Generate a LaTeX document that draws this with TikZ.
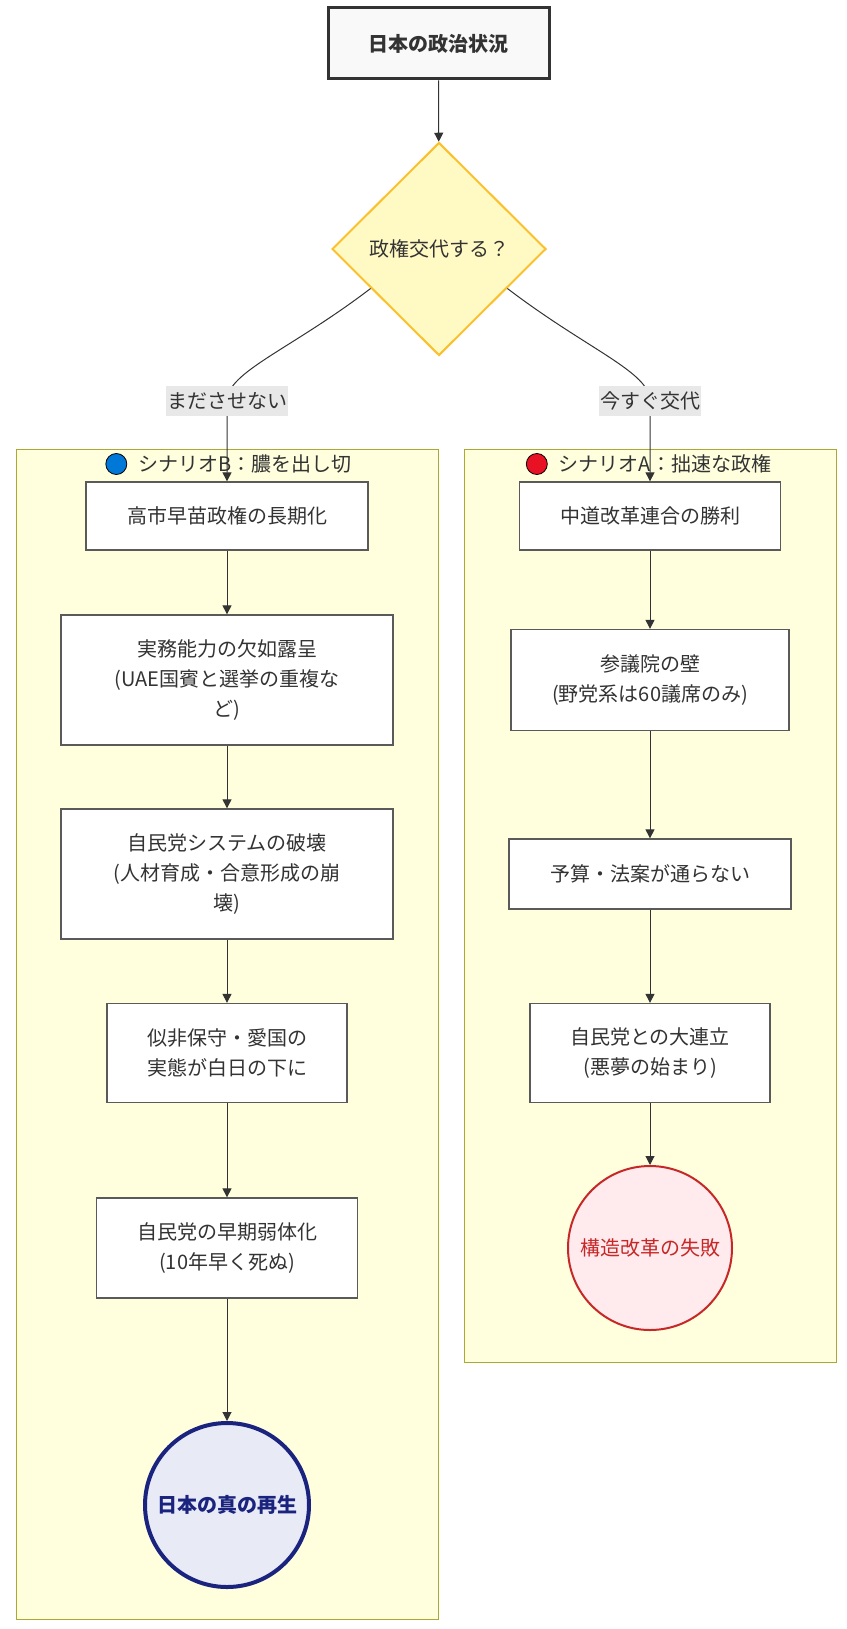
\documentclass[tikz,border=0pt]{standalone}
\usepackage{fontspec}
\setmainfont{Noto Sans CJK JP}
\usetikzlibrary{positioning,shapes.geometric,arrows.meta}

\definecolor{inkgray}{HTML}{333333}
\definecolor{boxgray}{HTML}{5A5A5A}
\definecolor{clfill}{HTML}{FFFFDE}
\definecolor{clline}{HTML}{AAAA33}
\definecolor{qfill}{HTML}{FFF9C4}
\definecolor{qline}{HTML}{FBC02D}
\definecolor{goodfill}{HTML}{E8EAF6}
\definecolor{goodline}{HTML}{1A237E}
\definecolor{badfill}{HTML}{FFEBEE}
\definecolor{badline}{HTML}{C62828}
\definecolor{lblfill}{HTML}{E8E8E8}
\definecolor{dotblue}{HTML}{0078D7}
\definecolor{dotred}{HTML}{E81224}

\begin{document}
\begin{tikzpicture}[x=1pt, y=-1pt,
 font=\fontsize{20pt}{30pt}\selectfont, text=inkgray,
% Node styles
 box/.style={draw=boxgray, line width=1.3pt, fill=white, align=center, inner sep=0pt},
 start/.style={box, draw=inkgray, line width=3pt, fill=black!2.5, font=\fontsize{20pt}{30pt}\selectfont\bfseries},
 question/.style={diamond, draw=qline, line width=2pt, fill=qfill, inner sep=0pt,
 minimum width=214pt, minimum height=213pt},
 good/.style={circle, draw=goodline, line width=4pt, fill=goodfill, text=goodline,
 minimum size=164pt, inner sep=0pt, font=\fontsize{20pt}{30pt}\selectfont\bfseries},
 bad/.style={circle, draw=badline, line width=2pt, fill=badfill, text=badline,
 minimum size=164pt, inner sep=0pt},
% Cluster styles
 cluster/.style={draw=clline, line width=1pt, fill=clfill, inner sep=0pt},
 ctitle/.style={inner sep=0pt},
 dot/.style={circle, draw=black, line width=0.8pt, minimum size=21pt, inner sep=0pt},
% Edge styles
 edge/.style={draw=inkgray, line width=1pt, -{Triangle[length=9pt,width=9pt]}},
% Label styles
 elabel/.style={fill=lblfill, inner sep=1pt, minimum height=30pt}
]
\useasboundingbox (0,0) rectangle (846,1629);
% Scenario clusters
\node[cluster, minimum width=422pt, minimum height=1170pt] (scnB) at (227,1034) {};
\node[cluster, minimum width=372pt, minimum height=913pt] (scnA) at (650,905.5) {};
\node[ctitle] (ttlB) at (245,464) {シナリオB：膿を出し切};
\node[dot, fill=dotblue, left=11pt of ttlB] (dotB) {};
\node[ctitle] (ttlA) at (665,464) {シナリオA：拙速な政権};
\node[dot, fill=dotred, left=11pt of ttlA] (dotA) {};
% Top of the chart
\node[start, minimum width=221pt, minimum height=71pt] (now) at (438.5,43.5) {日本の政治状況};
\node[question] (ask) at (439,249) {政権交代する？};
% Scenario B
\node[box, minimum width=282pt, minimum height=68pt] (b1) at (227,516) {高市早苗政権の長期化};
\node[box, minimum width=332pt, minimum height=130pt] (b2) at (227,680) {実務能力の欠如露呈\\(UAE国賓と選挙の重複な\\ど)};
\node[box, minimum width=332pt, minimum height=130pt] (b3) at (227,874) {自民党システムの破壊\\(人材育成・合意形成の崩\\壊)};
\node[box, minimum width=240pt, minimum height=99pt] (b4) at (227,1053) {似非保守・愛国の\\実態が白日の下に};
\node[box, minimum width=261pt, minimum height=100pt] (b5) at (227,1248) {自民党の早期弱体化\\(10年早く死ぬ)};
\node[good] (b6) at (227,1505) {日本の真の再生};
% Scenario A
\node[box, minimum width=261pt, minimum height=68pt] (a1) at (650,516) {中道改革連合の勝利};
\node[box, minimum width=278pt, minimum height=101pt] (a2) at (650,680) {参議院の壁\\(野党系は60議席のみ)};
\node[box, minimum width=282pt, minimum height=70pt] (a3) at (650,874) {予算・法案が通らない};
\node[box, minimum width=240pt, minimum height=99pt] (a4) at (650,1053) {自民党との大連立\\(悪夢の始まり)};
\node[bad] (a5) at (650,1248) {構造改革の失敗};
% Connect nodes with edges
\coordinate (kB) at (227,401);
\coordinate (kA) at (650,401);
\draw[edge] (now) -- (ask);
\draw[edge] (ask.210) .. controls (290,350) and (227,372) .. (kB) -- (b1.north);
\draw[edge] (ask.330) .. controls (588,350) and (650,372) .. (kA) -- (a1.north);
\node[elabel] (lblB) at (kB) {まださせない};
\node[elabel] (lblA) at (kA) {今すぐ交代};
\draw[edge] (b1) -- (b2);
\draw[edge] (b2) -- (b3);
\draw[edge] (b3) -- (b4);
\draw[edge] (b4) -- (b5);
\draw[edge] (b5) -- (b6);
\draw[edge] (a1) -- (a2);
\draw[edge] (a2) -- (a3);
\draw[edge] (a3) -- (a4);
\draw[edge] (a4) -- (a5);
\end{tikzpicture}
\end{document}
